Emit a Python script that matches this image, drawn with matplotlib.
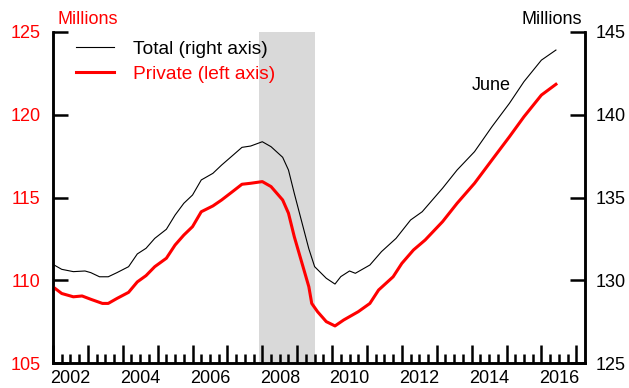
import matplotlib
matplotlib.use("Agg")
import matplotlib.pyplot as plt
import numpy as np
from matplotlib.ticker import FixedLocator, FuncFormatter, NullFormatter

plt.rcParams['font.family'] = ['Liberation Sans', 'DejaVu Sans']
FS = 13

# ---- data ----
private_dates = ["2002-01", "2002-04", "2002-08", "2002-11", "2003-02", "2003-06", "2003-08",
                 "2003-11", "2004-03", "2004-06", "2004-09", "2004-12", "2005-04", "2005-07",
                 "2005-10", "2006-01", "2006-04", "2006-08", "2006-11", "2007-03", "2007-06",
                 "2007-09", "2008-01", "2008-04", "2008-08", "2008-10", "2008-12", "2009-03",
                 "2009-05", "2009-06", "2009-08", "2009-11", "2010-02", "2010-05", "2010-10",
                 "2011-02", "2011-05", "2011-10", "2012-01", "2012-05", "2012-09", "2013-03",
                 "2013-08", "2014-02", "2014-08", "2015-02", "2015-07", "2016-01", "2016-06"]
private = [109.6, 109.2, 109.0, 109.05, 108.85, 108.6, 108.6,
           108.9, 109.27, 109.9, 110.28, 110.82, 111.33, 112.13,
           112.73, 113.24, 114.14, 114.49, 114.85, 115.39, 115.8,
           115.86, 115.96, 115.66, 114.85, 114.05, 112.63, 110.82,
           109.61, 108.6, 108.1, 107.5, 107.24, 107.6, 108.1,
           108.6, 109.41, 110.21, 111.02, 111.83, 112.43, 113.54,
           114.65, 115.86, 117.27, 118.67, 119.88, 121.19, 121.84]

total_dates = ["2002-01", "2002-04", "2002-08", "2002-12", "2003-02", "2003-05", "2003-08",
               "2003-11", "2004-03", "2004-06", "2004-09", "2004-12", "2005-04", "2005-07",
               "2005-10", "2006-01", "2006-04", "2006-08", "2006-11", "2007-03", "2007-06",
               "2007-09", "2008-01", "2008-04", "2008-08", "2008-10", "2008-12", "2009-03",
               "2009-05", "2009-07", "2009-11", "2010-02", "2010-04", "2010-07", "2010-09",
               "2011-02", "2011-06", "2011-11", "2012-04", "2012-08", "2013-03", "2013-08",
               "2014-02", "2014-08", "2015-02", "2015-07", "2016-01", "2016-06"]
total = [130.96, 130.66, 130.52, 130.56, 130.46, 130.21, 130.21,
         130.46, 130.82, 131.59, 131.93, 132.53, 133.08, 133.94,
         134.65, 135.15, 136.06, 136.46, 136.96, 137.57, 138.03,
         138.11, 138.37, 138.07, 137.43, 136.66, 135.25, 133.24,
         131.9, 130.82, 130.12, 129.77, 130.22, 130.56, 130.42,
         130.92, 131.73, 132.53, 133.64, 134.14, 135.56, 136.66,
         137.77, 139.28, 140.69, 142.0, 143.3, 143.91]

recession = ("2007-12", "2009-06")
year_labels = [2002, 2004, 2006, 2008, 2010, 2012, 2014, 2016]
left_ticks = [105, 110, 115, 120, 125]
right_ticks = [125, 130, 135, 140, 145]


def to_year(s):
    y, m = s.split("-")
    return int(y) + (int(m) - 1) / 12.0


px = [to_year(d) for d in private_dates]
tx = [to_year(d) for d in total_dates]

fig = plt.figure(figsize=(6.29, 3.88), dpi=100)
ax = fig.add_axes([53 / 629, 25 / 388, 532 / 629, 331 / 388])
ax2 = ax.twinx()

ax.axvspan(to_year(recession[0]), to_year(recession[1]) + 1 / 12, color='#d9d9d9', lw=0, zorder=0)
l_priv, = ax.plot(px, private, color='#ff0000', lw=2.2, solid_joinstyle='round', zorder=3)
l_tot, = ax2.plot(tx, total, color='black', lw=0.8, zorder=3)

ax.set_xlim(2002.0, 2017.25)
ax.set_ylim(105, 125)
ax2.set_ylim(125, 145)

for a in (ax, ax2):
    a.spines['top'].set_visible(False)
    for s in a.spines.values():
        s.set_linewidth(1.8)
        s.set_color('black')

# x ticks: years (long), quarters (short), labels at mid-year of even years
ax.xaxis.set_major_locator(FixedLocator(list(range(2002, 2018))))
ax.xaxis.set_major_formatter(NullFormatter())
quarters = [y + q for y in range(2002, 2017) for q in (0.25, 0.5, 0.75)]
ax.xaxis.set_minor_locator(FixedLocator(quarters))
ax.xaxis.set_minor_formatter(FuncFormatter(
    lambda x, p: str(int(round(x - 0.5))) if abs((x % 1) - 0.5) < 1e-6 and int(round(x - 0.5)) in year_labels else ""))
ax.tick_params(axis='x', which='major', direction='in', length=13, width=1.8, labelbottom=False)
ax.tick_params(axis='x', which='minor', direction='in', length=6.5, width=1.8, pad=5, labelsize=FS)

# left y axis
ax.yaxis.set_major_locator(FixedLocator(left_ticks))
ax.yaxis.set_minor_locator(FixedLocator([125]))
ax.yaxis.set_minor_formatter(NullFormatter())
ax.tick_params(axis='y', which='major', direction='in', length=11, width=1.8, pad=9,
               labelsize=FS, labelcolor='#ff0000', color='black')
ax.tick_params(axis='y', which='minor', direction='in', length=17, width=1.8)

# right y axis
ax2.yaxis.set_major_locator(FixedLocator(right_ticks))
ax2.yaxis.set_minor_locator(FixedLocator([145]))
ax2.yaxis.set_minor_formatter(NullFormatter())
ax2.tick_params(axis='y', which='major', direction='in', length=11, width=1.8, pad=8,
                labelsize=FS, labelcolor='black', color='black')
ax2.tick_params(axis='y', which='minor', direction='in', length=17, width=1.8)

ax.annotate('Millions', xy=(0, 1), xycoords='axes fraction', xytext=(3, 6),
            textcoords='offset points', ha='left', va='baseline', color='#ff0000', fontsize=FS)
ax2.annotate('Millions', xy=(1, 1), xycoords='axes fraction', xytext=(-2, 6),
             textcoords='offset points', ha='right', va='baseline', color='black', fontsize=FS)

ax2.text(2014.0, 141.5, 'June', ha='left', va='baseline', fontsize=FS, color='black')

leg = ax2.legend([l_tot, l_priv], ['Total (right axis)', 'Private (left axis)'],
                 loc='upper left', bbox_to_anchor=(0.043, 0.974), frameon=False,
                 handlelength=2.0, handletextpad=1.0, labelspacing=0.4,
                 borderpad=0, borderaxespad=0, fontsize=13.8)
for txt, c in zip(leg.get_texts(), ['black', '#ff0000']):
    txt.set_color(c)

fig.savefig('out.png', dpi=100)
